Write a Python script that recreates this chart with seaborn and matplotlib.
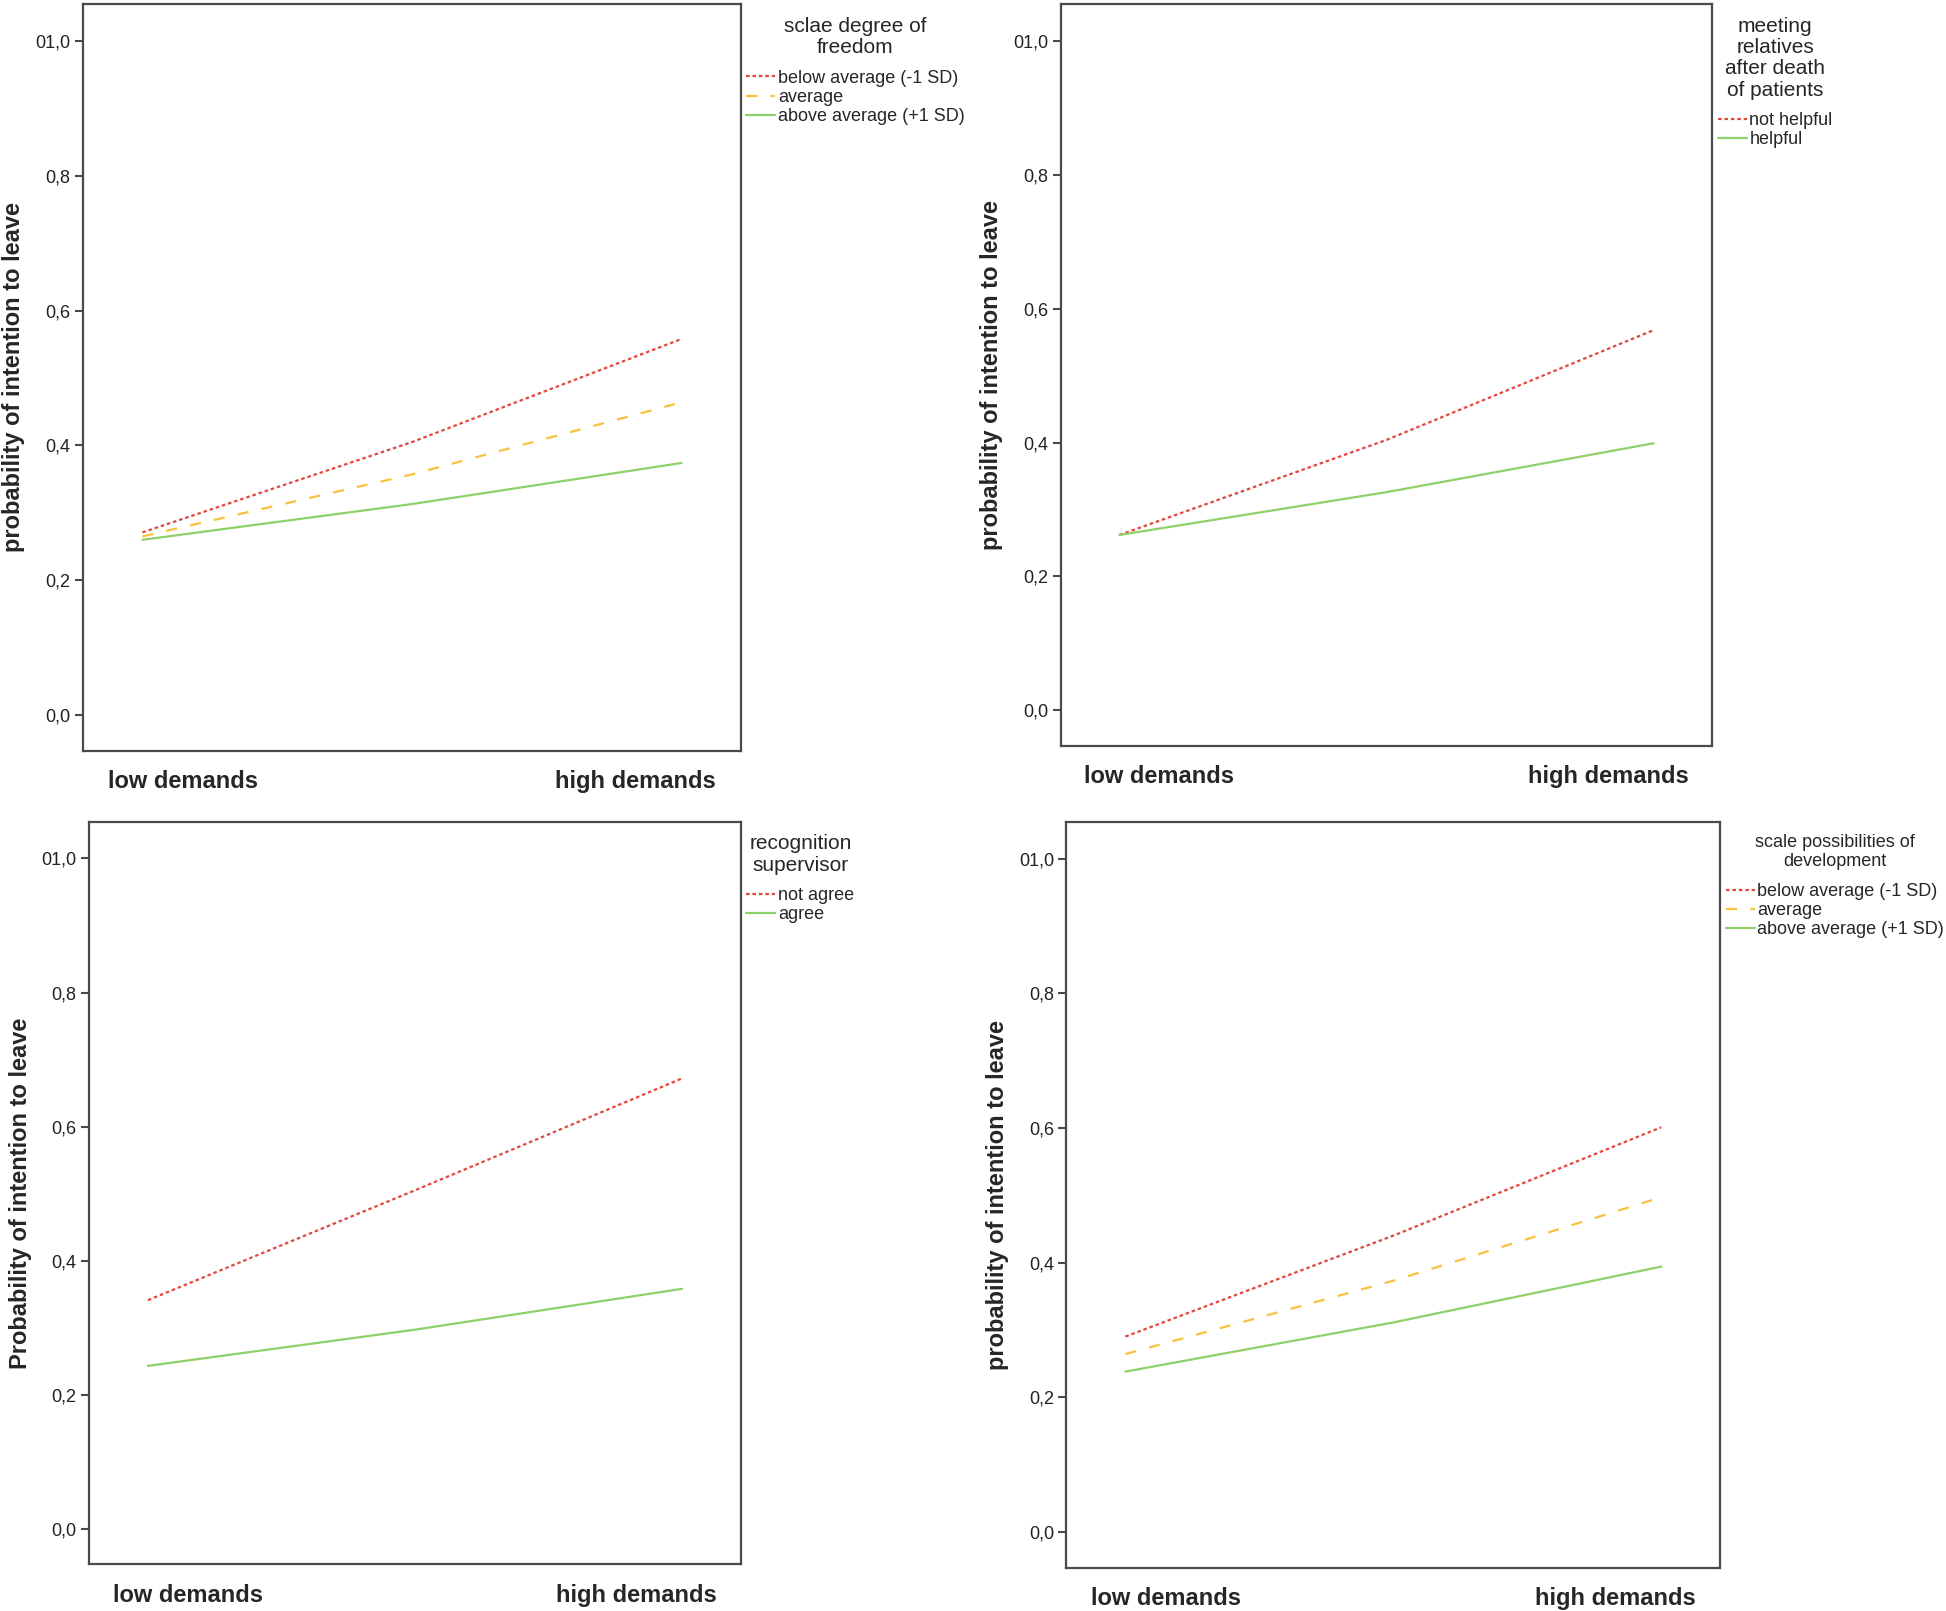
import numpy as np
import pandas as pd
import matplotlib
matplotlib.use("Agg")
import matplotlib.pyplot as plt
import seaborn as sns

# demand level (0 = low, 1 = high), middle point
demand = [0.0, 0.5, 1.0]
x_labels = ["low demands", "high demands"]
y_ticks = [0.0, 0.2, 0.4, 0.6, 0.8, 1.0]
y_labels = ["0,0", "0,2", "0,4", "0,6", "0,8", "01,0"]

# panel 1: scale degree of freedom
freedom_groups = ["below average (-1 SD)", "average", "above average (+1 SD)"]
freedom_below = [0.271, 0.405, 0.558]
freedom_avg = [0.265, 0.357, 0.464]
freedom_above = [0.260, 0.313, 0.374]

# panel 2: meeting relatives after death of patients
relatives_groups = ["not helpful", "helpful"]
relatives_not = [0.262, 0.404, 0.568]
relatives_help = [0.262, 0.326, 0.399]

# panel 3: recognition supervisor
recog_groups = ["not agree", "agree"]
recog_not = [0.341, 0.505, 0.672]
recog_agree = [0.243, 0.297, 0.358]

# panel 4: scale possibilities of development
devel_groups = ["below average (-1 SD)", "average", "above average (+1 SD)"]
devel_below = [0.290, 0.440, 0.601]
devel_avg = [0.264, 0.373, 0.497]
devel_above = [0.238, 0.311, 0.394]

RED = "#e2483f"
YEL = "#f9c23c"
GRN = "#8ed16b"
SPINE = "#4a4a4a"

sns.set_style("white")
plt.rcParams["font.family"] = ["Liberation Sans", "DejaVu Sans"]


def make_df(groups, series):
    rows = []
    for g, vals in zip(groups, series):
        for d, v in zip(demand, vals):
            rows.append({"demand": d, "prob": v, "group": g})
    return pd.DataFrame(rows)


def draw_panel(ax, groups, series, colors, dashes, ylabel, title, title_size):
    df = make_df(groups, series)
    sns.lineplot(data=df, x="demand", y="prob", hue="group", style="group",
                 hue_order=groups, style_order=groups,
                 palette=dict(zip(groups, colors)),
                 dashes=dict(zip(groups, dashes)),
                 linewidth=1.6, ax=ax)
    ax.set_xlim(-0.11, 1.11)
    ax.set_ylim(-0.053, 1.055)
    ax.set_yticks(y_ticks)
    ax.set_yticklabels(y_labels, fontsize=13, color="#222222")
    # SPSS puts the category labels a bit inside the line ends
    ax.set_xticks([0.075, 0.915])
    ax.set_xticklabels(x_labels, fontsize=17, fontweight="bold")
    ax.tick_params(axis="y", direction="out", length=6, width=1.5, color=SPINE, pad=3, left=True)
    ax.tick_params(axis="x", length=0, pad=14)
    ax.set_xlabel("")
    ax.set_ylabel(ylabel, fontsize=17, fontweight="bold")
    ax.yaxis.set_label_coords(-0.088, 0.5)
    for s in ax.spines.values():
        s.set_visible(True)
        s.set_color(SPINE)
        s.set_linewidth(1.6)
    leg = ax.legend(title=title, loc="upper left", bbox_to_anchor=(1.0, 0.99),
                    frameon=False, fontsize=13, title_fontsize=title_size,
                    handlelength=1.6, handletextpad=0.15, labelspacing=0.12,
                    borderaxespad=0.1, borderpad=0.2)
    leg.get_title().set_linespacing(1.15)
    leg.get_title().set_multialignment("center")
    leg._legend_box.sep = 9
    for line in leg.get_lines():
        line.set_linewidth(1.6)


fig = plt.figure(figsize=(19.46, 16.11), dpi=100)

ax1 = fig.add_axes([0.0427, 0.534, 0.338, 0.4635])
ax2 = fig.add_axes([0.545, 0.537, 0.335, 0.4605])
ax3 = fig.add_axes([0.0458, 0.029, 0.335, 0.461])
ax4 = fig.add_axes([0.548, 0.027, 0.336, 0.463])

dash3 = [(1.6, 1.3), (5, 6), ""]
dash2 = [(1.6, 1.3), ""]

draw_panel(ax1, freedom_groups, [freedom_below, freedom_avg, freedom_above],
           [RED, YEL, GRN], dash3, "probability of intention to leave",
           "sclae degree of\nfreedom", 15)
draw_panel(ax2, relatives_groups, [relatives_not, relatives_help],
           [RED, GRN], dash2, "probability of intention to leave",
           "meeting\nrelatives\nafter death\nof patients", 15)
draw_panel(ax3, recog_groups, [recog_not, recog_agree],
           [RED, GRN], dash2, "Probability of intention to leave",
           "recognition\nsupervisor", 15)
draw_panel(ax4, devel_groups, [devel_below, devel_avg, devel_above],
           [RED, YEL, GRN], dash3, "probability of intention to leave",
           "scale possibilities of\ndevelopment", 13)

fig.savefig("out.png", dpi=100, facecolor="white")
